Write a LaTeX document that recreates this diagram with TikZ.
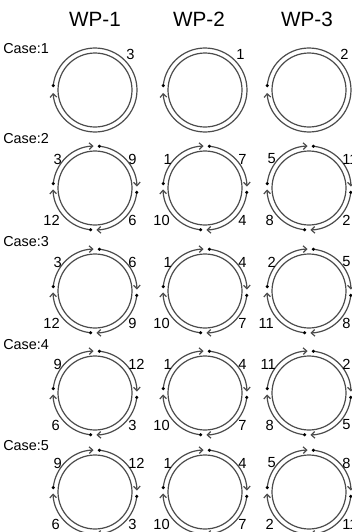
\documentclass[tikz,border=0pt]{standalone}
\usepackage{fontspec}
\setmainfont{Liberation Sans}
\usetikzlibrary{arrows.meta}
\tikzset{
  ring/.style={draw=black!70, line width=0.9pt},
  arcarrow/.style={draw=black!70, line width=0.9pt, -{Straight Barb[length=2.6pt,width=5pt]}},
  num/.style={font=\fontsize{11}{13}\selectfont, inner sep=0pt},
  header/.style={font=\fontsize{15.5}{18}\selectfont, inner sep=0pt},
  caselabel/.style={font=\fontsize{10.8}{13}\selectfont, anchor=west, inner sep=0pt}
}
% #1 name, #2 cx, #3 cy (screen), #4 TL, #5 TR, #6 BL, #7 BR
\newcommand\wheelfour[7]{%
  \begin{scope}[shift={(#2,-#3)}]
    \coordinate (#1) at (0,0);
    \draw[ring] (#1) circle[radius=37];
    \foreach \kk in {0,1,2,3}{
      \pgfmathsetmacro\sa{84-90*\kk}
      \pgfmathsetmacro\ea{2-90*\kk}
      \draw[arcarrow] (\sa:42) arc[start angle=\sa, end angle=\ea, radius=42];
      \fill (\sa:42) circle[radius=1.7];
    }
    \node[num, anchor=east] (#1-tl) at (-33,29) {#4};
    \node[num, anchor=west] (#1-tr) at (33,29) {#5};
    \node[num, anchor=east] (#1-bl) at (-35,-32) {#6};
    \node[num, anchor=west] (#1-br) at (33,-32) {#7};
  \end{scope}}
% #1 name, #2 cx, #3 cy, #4 TR
\newcommand\wheelone[4]{%
  \begin{scope}[shift={(#2,-#3)}]
    \coordinate (#1) at (0,0);
    \draw[ring] (#1) circle[radius=37];
    \draw[arcarrow] (174:42) arc[start angle=174, end angle=-176, radius=42];
    \fill (174:42) circle[radius=1.7];
    \node[num, anchor=west] (#1-tr) at (31,36) {#4};
  \end{scope}}
\begin{document}
\begin{tikzpicture}[x=0.75pt,y=0.75pt]
\useasboundingbox (0,0) rectangle (351,-532);
\fill[white] (0,0) rectangle (351,-532);

\node[header] (h1) at (95,-19) {WP-1};
\node[header] (h2) at (199,-19) {WP-2};
\node[header] (h3) at (307,-19) {WP-3};

\node[caselabel] (case1) at (3,-49) {Case:1};
\node[caselabel] (case2) at (3,-139) {Case:2};
\node[caselabel] (case3) at (3,-242) {Case:3};
\node[caselabel] (case4) at (3,-345) {Case:4};
\node[caselabel] (case5) at (3,-446) {Case:5};

\wheelone{w11}{95}{90}{3}
\wheelone{w12}{205}{90}{1}
\wheelone{w13}{309}{90}{2}

\wheelfour{w21}{95}{188}{3}{9}{12}{6}
\wheelfour{w22}{205}{188}{1}{7}{10}{4}
\wheelfour{w23}{309}{188}{5}{11}{8}{2}

\wheelfour{w31}{95}{291}{3}{6}{12}{9}
\wheelfour{w32}{205}{291}{1}{4}{10}{7}
\wheelfour{w33}{309}{291}{2}{5}{11}{8}

\wheelfour{w41}{95}{393}{9}{12}{6}{3}
\wheelfour{w42}{205}{393}{1}{4}{10}{7}
\wheelfour{w43}{309}{393}{11}{2}{8}{5}

\wheelfour{w51}{95}{492}{9}{12}{6}{3}
\wheelfour{w52}{205}{492}{1}{4}{10}{7}
\wheelfour{w53}{309}{492}{5}{8}{2}{11}
\end{tikzpicture}
\end{document}
